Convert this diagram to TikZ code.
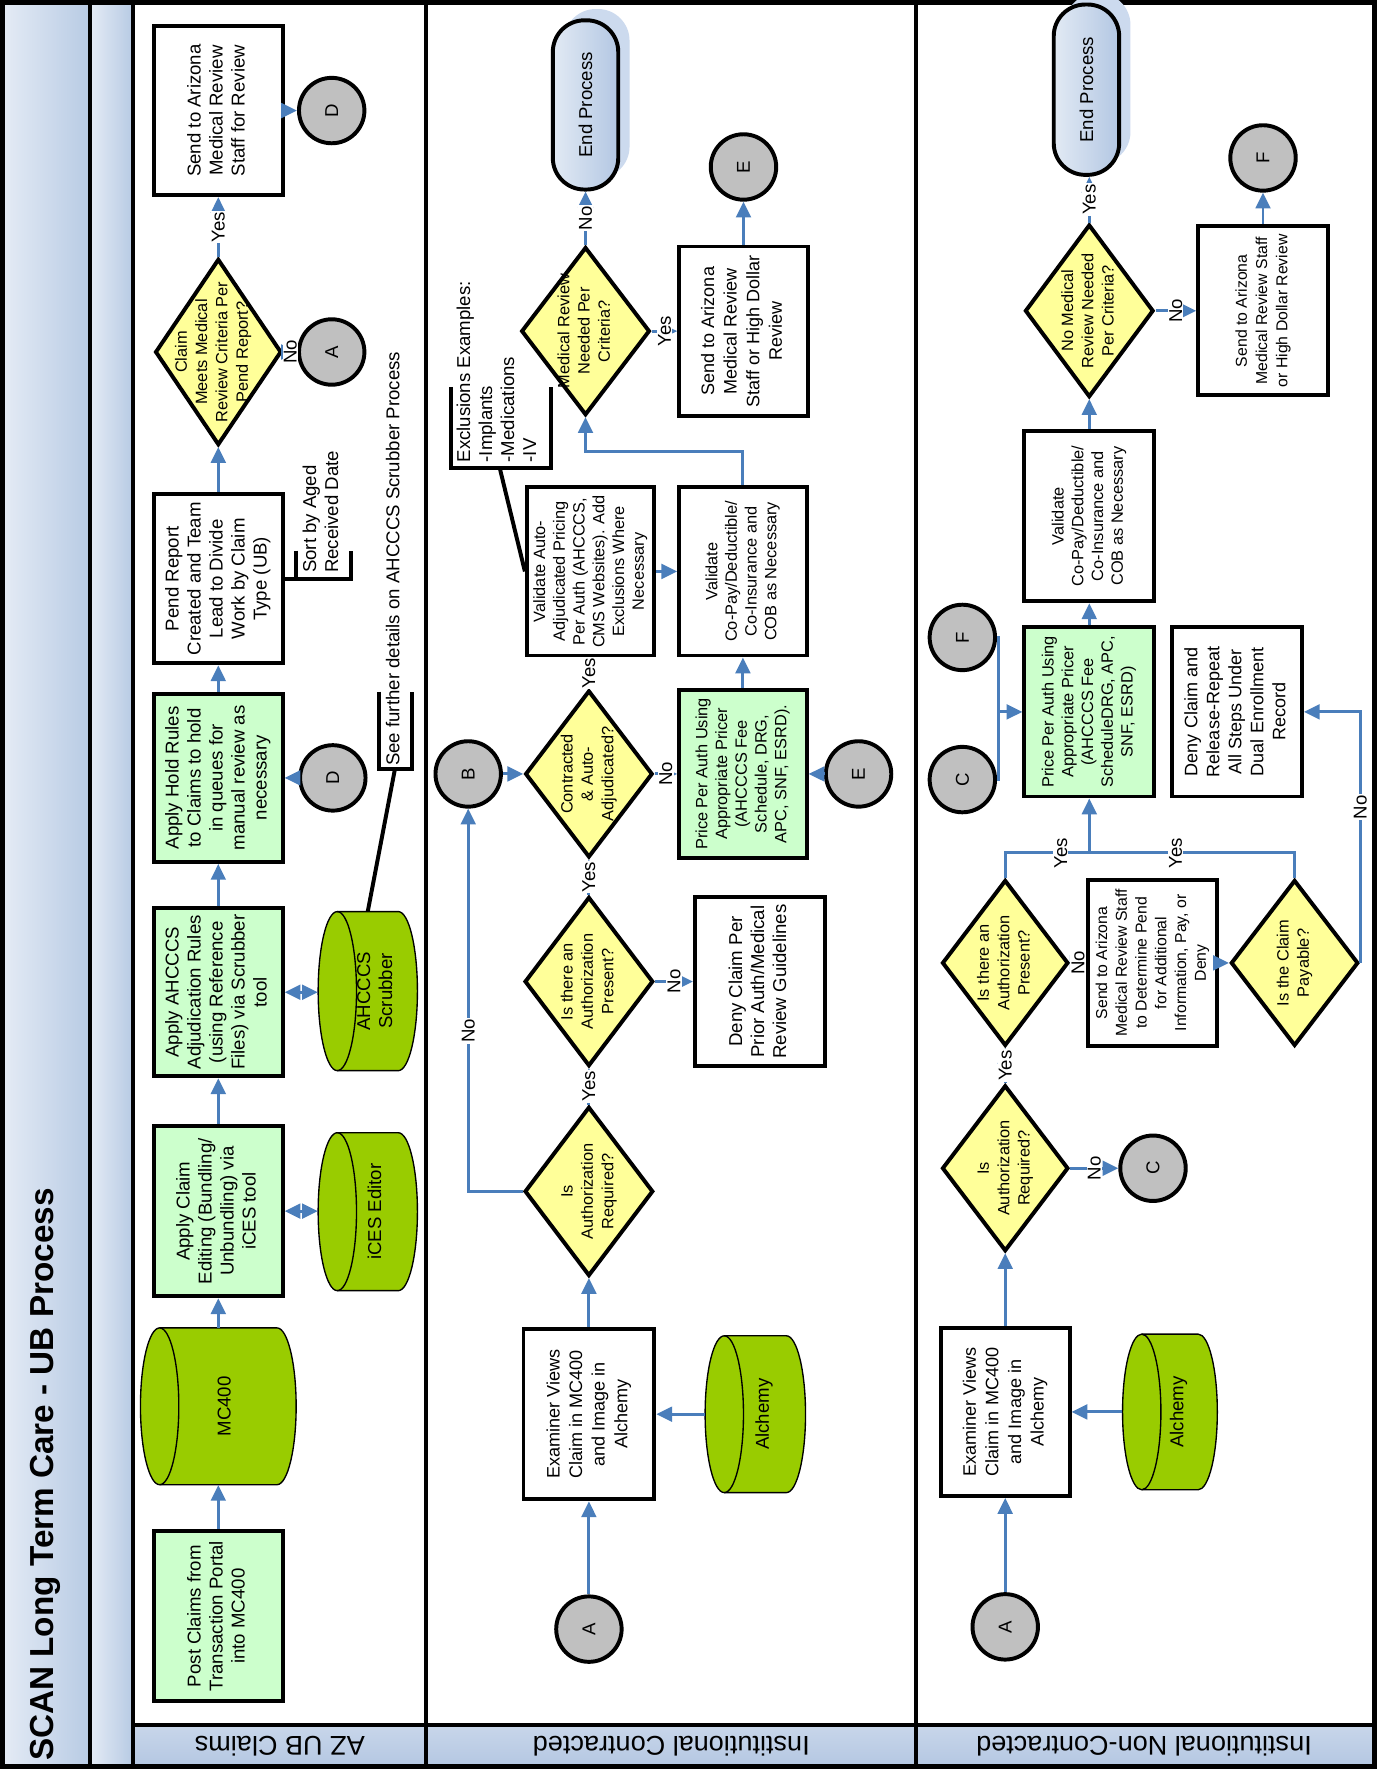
\documentclass[tikz,border=0pt]{standalone}
\usepackage{fontspec}
\setmainfont{Liberation Sans}
\usepackage{graphicx}
\usetikzlibrary{shapes.geometric,arrows.meta,calc,shadows}
\definecolor{flowblue}{HTML}{4A7EBB}
\definecolor{boxgreen}{HTML}{CCFFCC}
\definecolor{cylgreen}{HTML}{99CC00}
\definecolor{diayellow}{HTML}{FFFF99}
\definecolor{circgray}{HTML}{C0C0C0}
\definecolor{bandL}{HTML}{E4EBF5}
\definecolor{bandR}{HTML}{B8CBE4}
\definecolor{endL}{HTML}{E2EAF4}
\definecolor{endR}{HTML}{B3C7E3}
\definecolor{shadowblue}{HTML}{CCDAEE}
\definecolor{stripT}{HTML}{C8D6EA}
\definecolor{stripB}{HTML}{B4C7E2}
\newcommand\fs[2]{\fontsize{#1}{#2}\selectfont}
\newcommand\vt[1]{\rotatebox{90}{\begin{tabular}{@{}c@{}}#1\end{tabular}}}
\newcommand\vtl[1]{\rotatebox{90}{\begin{tabular}{@{}l@{}}#1\end{tabular}}}
\newcommand\lb[1]{\rotatebox{90}{\fs{16.5}{19}#1}}
\newcommand\cylpath[5]{%
  \filldraw[fill=cylgreen, draw=black, line width=1.2pt]
    (#1-#3/2+#5, #2-#4/2) -- (#1+#3/2-#5, #2-#4/2)
    arc[start angle=90, end angle=-90, x radius=#5pt, y radius={#4/2*1pt}]
    -- (#1-#3/2+#5, #2+#4/2)
    arc[start angle=270, end angle=90, x radius=#5pt, y radius={#4/2*1pt}] -- cycle;
  \draw[black, line width=1.2pt] (#1-#3/2+#5, #2-#4/2)
    arc[start angle=90, end angle=-90, x radius=#5pt, y radius={#4/2*1pt}];
}
\begin{document}
\begin{tikzpicture}[x=1pt, y=-1pt,
  box/.style={rectangle, draw=black, line width=3.5pt, inner sep=0pt, minimum width=114pt, font={\fs{16.5}{19.5}}},
  gbox/.style={box, fill=boxgreen},
  wbox/.style={box, fill=white},
  dia/.style={diamond, draw=black, line width=3.5pt, fill=diayellow, inner sep=0pt},
  dtxt/.style={inner sep=0pt, font={\fs{14.5}{18}}},
  circ/.style={circle, draw=black, line width=3.5pt, fill=circgray, minimum size=58pt, inner sep=0pt, font={\fs{16.5}{19}}},
  cyltxt/.style={rectangle, inner sep=0pt, font={\fs{16.5}{19.5}}},
  term/.style={rectangle, rounded corners=28pt, draw=black, line width=3.5pt, left color=endL, right color=endR, minimum width=58pt, minimum height=150pt, inner sep=0pt, font={\fs{16.5}{19.5}}, general shadow={fill=shadowblue, shadow xshift=10pt, shadow yshift=10pt}},
  flow/.style={draw=flowblue, line width=2.6pt, -{Triangle[length=14pt,width=13pt]}},
  flow2/.style={draw=flowblue, line width=2.6pt, {Triangle[length=14pt,width=13pt]}-{Triangle[length=14pt,width=13pt]}},
  fline/.style={draw=flowblue, line width=2.6pt},
  lbl/.style={fill=white, inner sep=1pt},
  annot/.style={draw=black, line width=3.5pt},
  atxt/.style={inner sep=0pt, anchor=south, font={\fs{16.5}{19.5}}},
  lane/.style={rotate=180, font={\fs{24}{28}}}
]
\useasboundingbox (0,0) rectangle (1222,1568);
\fill[white] (0,0) rectangle (1222,1568);
% bands and frame
\fill[left color=bandL, right color=bandR] (3,3) rectangle (79,1566);
\fill[left color=bandL, right color=bandR] (80,3) rectangle (117,1566);
\fill[top color=stripT, bottom color=stripB] (118,1529) rectangle (1217,1566);
\draw[line width=3.5pt] (79.5,3) -- (79.5,1566);
\draw[line width=3.5pt] (117.5,3) -- (117.5,1566);
\draw[line width=3.5pt] (378,3) -- (378,1566);
\draw[line width=3.5pt] (812,3) -- (812,1566);
\draw[line width=3.5pt] (117.5,1529) -- (1217,1529);
\draw[line width=4.5pt] (2.5,2.5) rectangle (1218.5,1565.5);
\node[rotate=90, anchor=west, inner sep=0pt, font={\bfseries\fs{29.5}{33}}] (title) at (40,1561) {SCAN Long Term Care - UB Process};
\node[lane] (lab1) at (248,1548) {AZ UB Claims};
\node[lane] (lab2) at (595,1548) {Institutional Contracted};
\node[lane] (lab3) at (1014,1548) {Institutional Non-Contracted};

% ================= Lane 1
\node[gbox, minimum height=151pt] (post) at (193.5,1432.5) {\vt{Post Claims from\\Transaction Portal\\into MC400}};
\cylpath{193.5}{1246.5}{138}{139}{17}
\node[cyltxt, minimum width=138pt, minimum height=139pt] (mc) at (193.5,1246.5) {\hspace*{14pt}\vt{MC400}};
\node[gbox, minimum height=151pt] (edit) at (193.5,1073.5) {\vt{Apply Claim\\Editing (Bundling/\\Unbundling) via\\iCES tool}};
\cylpath{326}{1074}{88}{140}{17}
\node[cyltxt, minimum width=88pt, minimum height=140pt] (ices) at (326,1074) {\hspace*{16pt}\vt{iCES Editor}};
\node[gbox, minimum height=149pt] (adj) at (193.5,879.5) {\vt{Apply AHCCCS\\Adjudication Rules\\(using Reference\\Files) via Scrubber\\tool}};
\cylpath{326}{878.5}{88}{141}{17}
\node[cyltxt, minimum width=88pt, minimum height=141pt] (scrub) at (326,878.5) {\hspace*{16pt}\vt{AHCCCS\\Scrubber}};
\node[gbox, minimum height=149pt] (hold) at (193.5,689.5) {\vt{Apply Hold Rules\\to Claims to hold\\in queues for\\manual review as\\necessary}};
\node[circ] (d1) at (295,689.5) {\rotatebox{90}{D}};
\node[wbox, minimum height=150pt] (pend) at (193.5,513) {\vt{Pend Report\\Created and Team\\Lead to Divide\\Work by Claim\\Type (UB)}};
\node[dia, minimum width=112pt, minimum height=165pt] (claim) at (193.5,312) {};
\node[dtxt] (claimt) at (189,312) {\vt{Claim\\Meets Medical\\Review Criteria Per\\Pend Report?}};
\node[circ] (a1) at (294,312) {\rotatebox{90}{A}};
\node[wbox, minimum height=150pt] (send1) at (193.5,98) {\vt{Send to Arizona\\Medical Review\\Staff for Review}};
\node[circ] (d2) at (294,98) {\rotatebox{90}{D}};

\draw[flow] (post.north) -- (mc.south);
\draw[flow] (mc.north) -- (edit.south);
\draw[flow2] (edit.east) -- (edit.east -| ices.west);
\draw[flow] (edit.north) -- (adj.south);
\draw[flow2] (adj.east) -- (adj.east -| scrub.west);
\draw[flow] (adj.north) -- (hold.south);
\draw[flow] (d1.west) -- (hold.east);
\draw[flow] (hold.north) -- (pend.south);
\draw[flow] (pend.north) -- (claim.south);
\draw[flow] (claim.east) -- node[lbl] (l1) {\lb{No}} (a1.west);
\draw[flow] (claim.north) -- node[lbl] (l2) {\lb{Yes}} (send1.south);
\draw[flow] (send1.east) -- (d2.west);

% annotations lane 1
\node[atxt] (sortt) at (286,508) {\vtl{Sort by Aged\\Received Date}};
\coordinate (sortb) at (262,513);
\draw[annot] (pend.east) -- (sortb);
\draw[annot] (262,488) -- (sortb) -- (311,513) -- (311,488);
\node[atxt] (seet) at (350,679) {\vtl{See further details on AHCCCS Scrubber Process}};
\coordinate (seeb) at (350,682);
\draw[annot] (scrub.north) -- (seeb);
\draw[annot] (336,613) -- (336,682) -- (365,682) -- (365,613);

% ================= Lane 2
\node[circ] (a2) at (522,1444) {\rotatebox{90}{A}};
\node[wbox, minimum width=116pt, minimum height=151pt, font={\fs{16}{20}}] (exam2) at (522,1253.5) {\vt{Examiner Views\\Claim in MC400\\and Image in\\Alchemy}};
\cylpath{669.5}{1253.5}{89}{139}{17}
\node[cyltxt, minimum width=89pt, minimum height=139pt] (alch2) at (669.5,1253.5) {\hspace*{16pt}\vt{Alchemy}};
\node[dia, minimum width=114pt, minimum height=150pt] (req2) at (522,1056) {};
\node[dtxt] (req2t) at (req2) {\vt{Is\\Authorization\\Required?}};
\node[dia, minimum width=114pt, minimum height=150pt] (pres2) at (522,870) {};
\node[dtxt] (pres2t) at (pres2) {\vt{Is there an\\Authorization\\Present?}};
\node[wbox, minimum width=115pt, minimum height=150pt] (deny2) at (673.5,870) {\vt{Deny Claim Per\\Prior Auth/Medical\\Review Guidelines}};
\node[circ] (b) at (415,686) {\rotatebox{90}{B}};
\node[dia, minimum width=113pt, minimum height=148pt] (con2) at (522,686) {};
\node[dtxt] (con2t) at (con2) {\vt{Contracted\\\& Auto-\\Adjudicated?}};
\node[gbox, minimum width=113pt, minimum height=149pt, font={\fs{14.5}{17.5}}] (price2) at (658.5,686) {\vt{Price Per Auth Using\\Appropriate Pricer\\(AHCCCS Fee\\Schedule, DRG,\\APC, SNF, ESRD).}};
\node[circ] (e1) at (761,686) {\rotatebox{90}{E}};
\node[wbox, minimum width=113pt, minimum height=149pt, font={\fs{14.5}{17.5}}] (vauto) at (523.5,506.5) {\vt{Validate Auto-\\Adjudicated Pricing\\Per Auth (AHCCCS,\\CMS Websites). Add\\Exclusions Where\\Necessary}};
\node[wbox, minimum width=113pt, minimum height=149pt, font={\fs{14.5}{17.5}}] (vcop2) at (658.5,506.5) {\vt{Validate\\Co-Pay/Deductible/\\Co-Insurance and\\COB as Necessary}};
\node[dia, minimum width=114pt, minimum height=149pt] (med2) at (519,293.5) {};
\node[dtxt] (med2t) at (med2) {\vt{Medical Review\\Needed Per\\Criteria?}};
\node[wbox, minimum width=114pt, minimum height=150pt, font={\fs{16}{20}}] (send2) at (659,293.5) {\vt{Send to Arizona\\Medical Review\\Staff or High Dollar\\Review}};
\node[circ] (e2) at (659,148) {\rotatebox{90}{E}};
\node[term] (end2) at (519,93) {\rotatebox{90}{End Process}};

\node[atxt] (exclt) at (442,410) {\vtl{Exclusions Examples:\\-Implants\\-Medications\\-IV}};
\coordinate (exclb) at (443,415);
\draw[annot] (exclb) -- (vauto.west);
\draw[annot] (400,343) -- (400,415) -- (488,415) -- (488,343);

\draw[flow] (a2.north) -- (a2.north |- exam2.south);
\draw[flow] (alch2.west) -- (exam2.east);
\draw[flow] (exam2.north) -- (req2.south);
\draw[flow] (req2.west) -| node[lbl, pos=0.71] (l3) {\lb{No}} (b.south);
\draw[flow] (req2.north) -- node[lbl] (l4) {\lb{Yes}} (pres2.south);
\draw[flow] (pres2.east) -- node[lbl] (l5) {\lb{No}} (deny2.west);
\draw[flow] (pres2.north) -- node[lbl] (l6) {\lb{Yes}} (con2.south);
\draw[flow] (b.east) -- (con2.west);
\draw[flow] (con2.east) -- node[lbl] (l7) {\lb{No}} (price2.west);
\draw[flow] (e1.west) -- (price2.east);
\draw[flow] (con2.north) -- node[lbl] (l8) {\lb{Yes}} (con2.north |- vauto.south);
\draw[flow] (price2.north) -- (vcop2.south);
\draw[flow] (vauto.east) -- (vcop2.west);
\draw[flow] (vcop2.north) -- ++(0,-30) -| (med2.south);
\draw[flow] (med2.east) -- node[lbl] (l9) {\lb{Yes}} (med2.east -| send2.west);
\draw[flow] (med2.north) -- node[lbl] (l10) {\lb{No}} (end2.south);
\draw[flow] (send2.north) -- (e2.south);

% ================= Lane 3
\node[circ] (a3) at (891,1442) {\rotatebox{90}{A}};
\node[wbox, minimum width=114pt, minimum height=149pt, font={\fs{16}{20}}] (exam3) at (891,1251.5) {\vt{Examiner Views\\Claim in MC400\\and Image in\\Alchemy}};
\cylpath{1037}{1251.5}{84}{138}{17}
\node[cyltxt, minimum width=84pt, minimum height=138pt] (alch3) at (1037,1251.5) {\hspace*{16pt}\vt{Alchemy}};
\node[dia, minimum width=112pt, minimum height=147pt] (req3) at (891,1035.5) {};
\node[dtxt] (req3t) at (req3) {\vt{Is\\Authorization\\Required?}};
\node[circ] (c1) at (1022,1035.5) {\rotatebox{90}{C}};
\node[dia, minimum width=112pt, minimum height=147pt] (pres3) at (891,853.5) {};
\node[dtxt] (pres3t) at (pres3) {\vt{Is there an\\Authorization\\Present?}};
\node[wbox, minimum width=115pt, minimum height=147pt, font={\fs{14}{17.5}}] (send3m) at (1021.5,853.5) {\vt{Send to Arizona\\Medical Review Staff\\to Determine Pend\\for Additional\\Information, Pay, or\\Deny}};
\node[dia, minimum width=113pt, minimum height=147pt] (pay) at (1147.5,853.5) {};
\node[dtxt] (payt) at (pay) {\vt{Is the Claim\\Payable?}};
\node[gbox, minimum width=115pt, minimum height=150pt, font={\fs{14.5}{17.5}}] (price3) at (965.5,631) {\vt{Price Per Auth Using\\Appropriate Pricer\\(AHCCCS Fee\\ScheduleDRG, APC,\\SNF, ESRD)}};
\node[wbox, minimum width=115pt, minimum height=150pt, font={\fs{16}{19.5}}] (deny3) at (1096.5,631) {\vt{Deny Claim and\\Release-Repeat\\All Steps Under\\Dual Enrollment\\Record}};
\node[circ] (c2) at (853,691) {\rotatebox{90}{C}};
\node[circ] (f1) at (853,565) {\rotatebox{90}{F}};
\node[wbox, minimum width=115pt, minimum height=151pt, font={\fs{14.5}{17.5}}] (val3) at (965.5,457.5) {\vt{Validate\\Co-Pay/Deductible/\\Co-Insurance and\\COB as Necessary}};
\node[dia, minimum width=114pt, minimum height=153pt] (nm) at (965.5,275.5) {};
\node[dtxt] (nmt) at (nm) {\vt{No Medical\\Review Needed\\Per Criteria?}};
\node[term, minimum height=151pt] (end3) at (963,79.5) {\rotatebox{90}{End Process}};
\node[wbox, minimum width=115pt, minimum height=150pt, font={\fs{14}{18}}] (send3) at (1119.5,275.5) {\vt{Send to Arizona\\Medical Review Staff\\or High Dollar Review}};
\node[circ] (f2) at (1119.5,140) {\rotatebox{90}{F}};

\draw[flow] (a3.north) -- (exam3.south);
\draw[flow] (alch3.west) -- (exam3.east);
\draw[flow] (exam3.north) -- (req3.south);
\draw[flow] (req3.east) -- node[lbl] (l11) {\lb{No}} (c1.west);
\draw[flow] (req3.north) -- node[lbl] (l12) {\lb{Yes}} (pres3.south);
\draw[flow] (pres3.east) -- node[lbl] (l13) {\lb{No}} (send3m.west);
\draw[flow] (send3m.east) -- (pay.west);
\coordinate (yj) at (965.5,756);
\draw[fline] (pres3.north) |- node[lbl, pos=0.83] (l14) {\lb{Yes}} (yj);
\draw[fline] (pay.north) |- node[lbl, pos=0.79] (l15) {\lb{Yes}} (yj);
\draw[flow] (yj) -- (price3.south);
\draw[flow] (pay.east) |- node[lbl, pos=0.31] (l16) {\lb{No}} (deny3.east);
\coordinate (jcf) at (885,631);
\draw[fline] (c2.east) -| (jcf);
\draw[fline] (f1.east) -| (jcf);
\draw[flow] (jcf) -- (price3.west);
\draw[flow] (price3.north) -- (val3.south);
\draw[flow] (val3.north) -- (nm.south);
\draw[flow] (nm.north) -- node[lbl] (l17) {\lb{Yes}} (nm.north |- end3.south);
\draw[flow] (nm.east) -- node[lbl] (l18) {\lb{No}} (nm.east -| send3.west);
\draw[flow] (send3.north) -- (f2.south);
\end{tikzpicture}
\end{document}
